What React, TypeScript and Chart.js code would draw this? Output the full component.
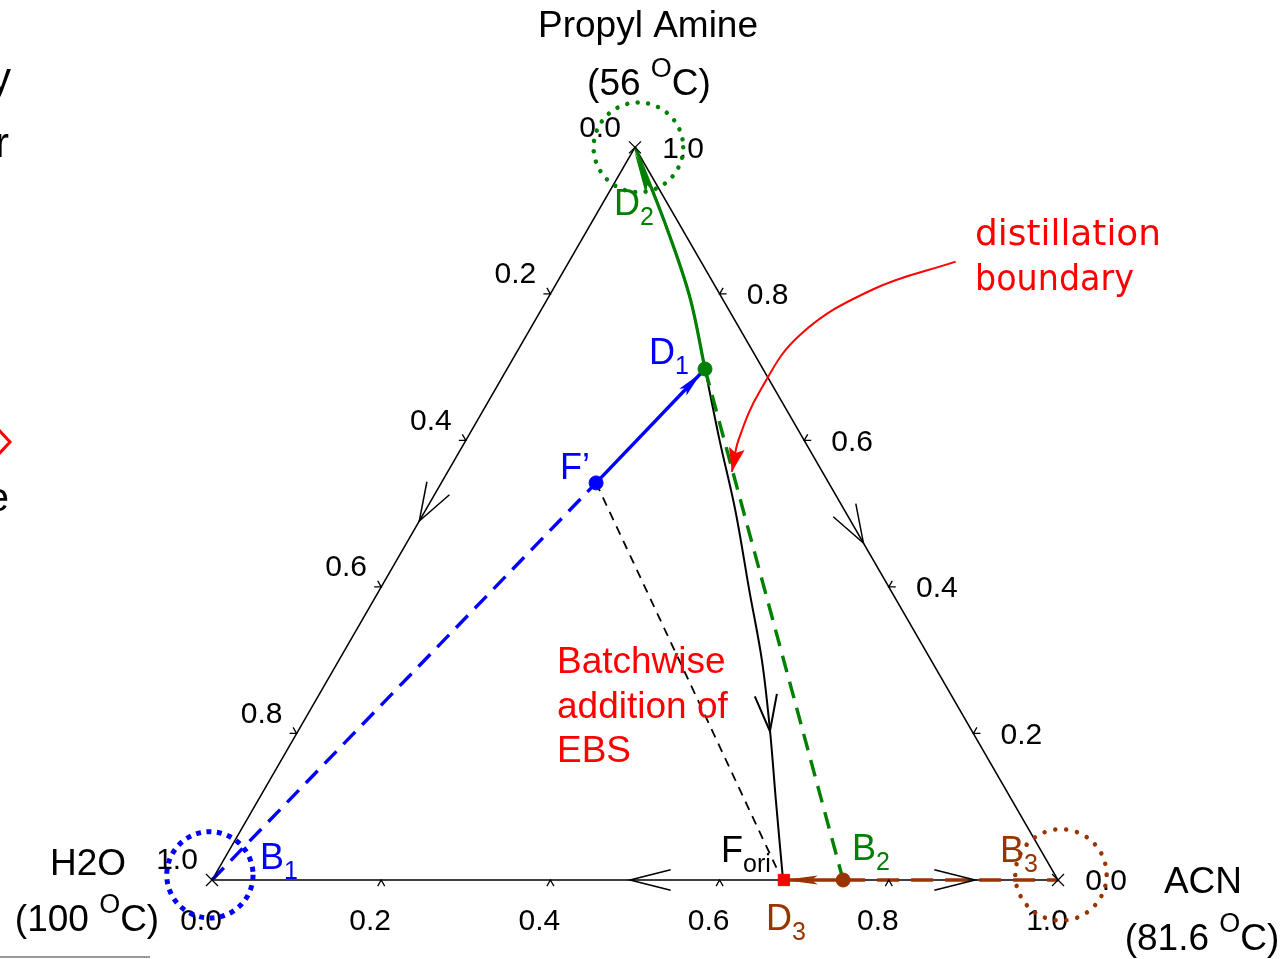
import React, { useEffect, useRef } from "react";
import { Chart, registerables } from "chart.js";

Chart.register(...registerables);

const H = Math.sqrt(3) / 2;
const FONT = '"Liberation Sans", Arial, Helvetica, sans-serif';

// Compositions are [ACN fraction, Propyl Amine fraction]; H2O = 1 - ACN - PA
const tickValues = [0.0, 0.2, 0.4, 0.6, 0.8, 1.0];
const tickLabels = ["0.0", "0.2", "0.4", "0.6", "0.8", "1.0"];

const triangleACN = [0, 1, 0, 0];
const trianglePA = [0, 0, 1, 0];

// distillation boundary (residue curve)
const boundaryACN = [0.0, 0.086, 0.166, 0.234, 0.3, 0.366, 0.437, 0.5, 0.557, 0.612, 0.675];
const boundaryPA = [1.0, 0.898, 0.797, 0.6975, 0.6, 0.505, 0.396, 0.3, 0.205, 0.109, 0.0];

const pointB1 = [0, 0];
const pointD2 = [0, 1];
const pointB3 = [1, 0];
const pointD1 = [0.234, 0.6975];
const pointF = [0.183, 0.542];
const pointFori = [0.664, 0.011];
const pointD3 = [0.676, 0];
const pointB2 = [0.746, 0];

// red annotation arrow
const redArrowACN = [0.457, 0.378, 0.323, 0.314, 0.322, 0.336];
const redArrowPA = [0.844, 0.806, 0.744, 0.669, 0.601, 0.557];

// dotted circles [ACN, PA, radius]
const circleGreen = [0.004, 1.0, 0.053];
const circleBlue = [-0.006, 0.007, 0.051];
const circleBrown = [1.0, 0.007, 0.054];

const green = "#008000";
const blue = "#0000FF";
const brown = "#993300";
const red = "#FF0000";

const toXY = (c: number[]) => ({ x: c[0] + 0.5 * c[1], y: H * c[1] });
const curve = (acn: number[], pa: number[]) => acn.map((a, i) => toXY([a, pa[i]]));

function drawRich(ctx: CanvasRenderingContext2D, x: number, y: number, parts: any[], align: string) {
  let w = 0;
  parts.forEach((p) => {
    ctx.font = `${p.size}px ${FONT}`;
    p.w = ctx.measureText(p.t).width;
    w += p.w;
  });
  let cx = align === "center" ? x - w / 2 : x;
  parts.forEach((p) => {
    ctx.font = `${p.size}px ${FONT}`;
    ctx.fillStyle = p.color;
    ctx.textAlign = "left";
    ctx.textBaseline = "middle";
    ctx.fillText(p.t, cx, y + 2 + (p.dy || 0));
    cx += p.w;
  });
}

function openArrow(ctx: CanvasRenderingContext2D, tip: any, from: any, len: number, half: number, color: string, lw: number) {
  const a = Math.atan2(tip.y - from.y, tip.x - from.x);
  ctx.save();
  ctx.strokeStyle = color;
  ctx.lineWidth = lw;
  ctx.setLineDash([]);
  ctx.beginPath();
  ctx.moveTo(tip.x + len * Math.cos(a + Math.PI - half), tip.y + len * Math.sin(a + Math.PI - half));
  ctx.lineTo(tip.x, tip.y);
  ctx.lineTo(tip.x + len * Math.cos(a + Math.PI + half), tip.y + len * Math.sin(a + Math.PI + half));
  ctx.stroke();
  ctx.restore();
}

function filledArrow(ctx: CanvasRenderingContext2D, tip: any, from: any, len: number, hw: number, color: string) {
  const a = Math.atan2(tip.y - from.y, tip.x - from.x);
  const bx = tip.x - len * Math.cos(a);
  const by = tip.y - len * Math.sin(a);
  ctx.save();
  ctx.fillStyle = color;
  ctx.beginPath();
  ctx.moveTo(tip.x, tip.y);
  ctx.lineTo(bx + hw * Math.sin(a), by - hw * Math.cos(a));
  ctx.lineTo(tip.x - len * 0.8 * Math.cos(a), tip.y - len * 0.8 * Math.sin(a));
  ctx.lineTo(bx - hw * Math.sin(a), by + hw * Math.cos(a));
  ctx.closePath();
  ctx.fill();
  ctx.restore();
}

const annot = {
  id: "annot",
  afterDatasetsDraw(chart: any) {
    const ctx: CanvasRenderingContext2D = chart.ctx;
    const sx = chart.scales.x;
    const sy = chart.scales.y;
    const P = (c: number[]) => ({ x: sx.getPixelForValue(c[0] + 0.5 * c[1]), y: sy.getPixelForValue(H * c[1]) });
    const unit = sx.getPixelForValue(1) - sx.getPixelForValue(0);

    ctx.save();
    // ticks
    ctx.strokeStyle = "#000";
    ctx.lineWidth = 1.3;
    const tick = (p: any, a1: number, a2: number) => {
      const L = 7;
      ctx.beginPath();
      ctx.moveTo(p.x + L * Math.cos(a1), p.y + L * Math.sin(a1));
      ctx.lineTo(p.x, p.y);
      ctx.lineTo(p.x + L * Math.cos(a2), p.y + L * Math.sin(a2));
      ctx.stroke();
    };
    const d = Math.PI / 180;
    tickValues.slice(1, 5).forEach((v) => {
      tick(P([v, 0]), 60 * d, 120 * d);
      tick(P([0, 1 - v]), 180 * d, 240 * d);
      tick(P([1 - v, v]), -60 * d, 0);
    });

    // vertex crosses
    [pointB1, pointD2, pointB3].forEach((c) => {
      const p = P(c);
      ctx.beginPath();
      ctx.moveTo(p.x - 6, p.y - 6);
      ctx.lineTo(p.x + 6, p.y + 6);
      ctx.moveTo(p.x + 6, p.y - 6);
      ctx.lineTo(p.x - 6, p.y + 6);
      ctx.stroke();
    });

    // tick labels
    ctx.fillStyle = "#000";
    ctx.font = `30px ${FONT}`;
    ctx.textAlign = "center";
    ctx.textBaseline = "middle";
    tickValues.forEach((v, i) => {
      const b = P([v, 0]);
      ctx.fillText(tickLabels[i], b.x - 11, b.y + 42);
      const l = P([0, 1 - v]);
      ctx.fillText(tickLabels[i], l.x - 35, l.y - 19);
      const r = P([1 - v, v]);
      ctx.fillText(tickLabels[i], r.x + 48, r.y + 2);
    });

    // open arrows on edges and boundary
    const half = 19 * d;
    openArrow(ctx, P([0, 0.49]), P([0, 1]), 40, half, "#000", 1.5);
    openArrow(ctx, P([0.54, 0.46]), P([0, 1]), 40, half, "#000", 1.5);
    openArrow(ctx, P([0.494, 0]), P([1, 0]), 42, 14 * d, "#000", 1.5);
    openArrow(ctx, P([0.902, 0]), P([0, 0]), 42, 14 * d, "#000", 1.5);
    openArrow(ctx, P([0.558, 0.203]), P([boundaryACN[7], boundaryPA[7]]), 38, 17 * d, "#000", 2);

    // filled arrowheads
    filledArrow(ctx, P([0.003, 0.993]), P([boundaryACN[2], boundaryPA[2]]), 44, 4.5, green);
    const d1 = P(pointD1);
    const fp = P(pointF);
    const bl = Math.hypot(d1.x - fp.x, d1.y - fp.y);
    const tipB = { x: d1.x - ((d1.x - fp.x) / bl) * 6, y: d1.y - ((d1.y - fp.y) / bl) * 6 };
    filledArrow(ctx, tipB, fp, 26, 5, blue);
    filledArrow(ctx, P(pointD3), P(pointB2), 34, 4.5, brown);

    // red annotation arrowhead
    const n = redArrowACN.length;
    filledArrow(ctx, P([redArrowACN[n - 1], redArrowPA[n - 1]]), P([redArrowACN[n - 2], redArrowPA[n - 2]]), 24, 8, red);

    // dotted circles
    const circ = (c: number[], color: string, lw: number, dash: number[], cap: CanvasLineCap) => {
      const p = P(c);
      ctx.save();
      ctx.strokeStyle = color;
      ctx.lineWidth = lw;
      ctx.setLineDash(dash);
      ctx.lineCap = cap;
      ctx.beginPath();
      ctx.arc(p.x, p.y, c[2] * unit, 0, Math.PI * 2);
      ctx.stroke();
      ctx.restore();
    };
    circ(circleGreen, green, 4.5, [0.01, 10.5], "round");
    circ(circleBlue, blue, 5, [5, 5.5], "butt");
    circ(circleBrown, brown, 4.5, [0.01, 11], "round");

    // vertex labels
    const sup = (t: string) => ({ t, size: 27, dy: -15, color: "#000" });
    const nrm = (t: string, color = "#000") => ({ t, size: 37, dy: 0, color });
    drawRich(ctx, 648, 25, [nrm("Propyl Amine")], "center");
    drawRich(ctx, 649, 83, [nrm("(56 "), sup("O"), nrm("C)")], "center");
    drawRich(ctx, 88, 863, [nrm("H2O")], "center");
    drawRich(ctx, 87, 919, [nrm("(100 "), sup("O"), nrm("C)")], "center");
    drawRich(ctx, 1203, 881, [nrm("ACN")], "center");
    drawRich(ctx, 1202, 938, [nrm("(81.6 "), sup("O"), nrm("C)")], "center");

    // point labels
    const lab = (x: number, y: number, main: string, sub: string, color: string) =>
      drawRich(ctx, x, y, [{ t: main, size: 36, dy: 0, color }, { t: sub, size: 25, dy: 13, color }], "left");
    lab(614, 203, "D", "2", green);
    lab(649, 352, "D", "1", blue);
    lab(560, 467, "F\u2019", "", blue);
    lab(260, 857, "B", "1", blue);
    lab(721, 850, "F", "ori", "#000");
    lab(852, 848, "B", "2", green);
    lab(1000, 850, "B", "3", brown);
    lab(766, 918, "D", "3", brown);

    // red texts
    ctx.fillStyle = red;
    ctx.textAlign = "left";
    ctx.textBaseline = "middle";
    ctx.font = `37px ${FONT}`;
    ctx.fillText("Batchwise", 557, 663);
    ctx.fillText("addition of", 557, 708);
    ctx.fillText("EBS", 557, 752);
    ctx.font = `36px "Comic Sans MS", "DejaVu Sans", sans-serif`;
    ctx.fillText("distillation", 975, 236, 186);
    ctx.fillText("boundary", 975, 281, 159);

    // clipped slide remnants at the left edge
    ctx.fillStyle = "#000";
    ctx.font = `42px ${FONT}`;
    ctx.textAlign = "right";
    ctx.fillText("y", 11, 80);
    ctx.fillText("r", 9, 145);
    ctx.font = `40px ${FONT}`;
    ctx.fillText("e", 9, 500);
    ctx.strokeStyle = red;
    ctx.lineWidth = 3;
    ctx.beginPath();
    ctx.moveTo(-3, 428);
    ctx.lineTo(10, 442);
    ctx.lineTo(-3, 456);
    ctx.stroke();
    ctx.strokeStyle = "#777";
    ctx.lineWidth = 1.5;
    ctx.beginPath();
    ctx.moveTo(0, 957);
    ctx.lineTo(150, 957);
    ctx.stroke();
    ctx.restore();
  },
};

export default function App() {
  const ref = useRef<HTMLCanvasElement>(null);
  useEffect(() => {
    const canvas = ref.current!;
    const base = { showLine: true, pointRadius: 0, fill: false, clip: false as any };
    const datasets: any[] = [
      { ...base, label: "triangle", data: curve(triangleACN, trianglePA), borderColor: "#000", borderWidth: 1.5, order: 10 },
      { ...base, label: "boundary", data: curve(boundaryACN, boundaryPA), borderColor: "#000", borderWidth: 2, tension: 0.35, order: 9 },
      { ...base, label: "D2-D1", data: curve(boundaryACN.slice(0, 4), boundaryPA.slice(0, 4)), borderColor: green, borderWidth: 3.2, tension: 0.35, order: 8 },
      { ...base, label: "D1-B2", data: [toXY(pointD1), toXY(pointB2)], borderColor: green, borderWidth: 3.4, borderDash: [17, 10], order: 7 },
      { ...base, label: "B1-F", data: [toXY(pointB1), toXY(pointF)], borderColor: blue, borderWidth: 3.4, borderDash: [17, 10], order: 7 },
      { ...base, label: "F-D1", data: [toXY(pointF), toXY(pointD1)], borderColor: blue, borderWidth: 3.4, order: 7 },
      { ...base, label: "F-Fori", data: [toXY(pointF), toXY(pointFori)], borderColor: "#000", borderWidth: 1.8, borderDash: [9, 7], order: 7 },
      { ...base, label: "B2-D3", data: [toXY(pointB2), toXY(pointD3)], borderColor: brown, borderWidth: 3.4, order: 6 },
      { ...base, label: "B2-B3", data: [toXY(pointB2), toXY(pointB3)], borderColor: brown, borderWidth: 3.4, borderDash: [22, 12], order: 6 },
      { ...base, label: "red", data: curve(redArrowACN, redArrowPA), borderColor: red, borderWidth: 2, tension: 0.4, order: 6 },
      { label: "D1", data: [toXY(pointD1)], pointRadius: 7, backgroundColor: green, borderColor: green, order: 1, clip: false },
      { label: "F", data: [toXY(pointF)], pointRadius: 7, backgroundColor: blue, borderColor: blue, order: 1, clip: false },
      { label: "B2", data: [toXY(pointB2)], pointRadius: 7, backgroundColor: brown, borderColor: brown, order: 1, clip: false },
      { label: "D3", data: [toXY(pointD3)], pointStyle: "rect", pointRadius: 8, backgroundColor: red, borderColor: red, order: 1, clip: false },
    ];
    const chart = new Chart(canvas, {
      type: "scatter",
      data: { datasets },
      options: {
        animation: false,
        responsive: true,
        maintainAspectRatio: false,
        layout: { padding: 0, autoPadding: false },
        plugins: { legend: { display: false }, tooltip: { enabled: false } },
        scales: {
          x: { type: "linear", display: false, min: -212 / 846, max: (1284 - 212) / 846 },
          y: { type: "linear", display: false, min: -(959 - 880) / 846, max: 880 / 846 },
        },
      },
      plugins: [annot],
    });
    return () => chart.destroy();
  }, []);
  return (
    <div style={{ position: "absolute", left: 0, top: 0, width: 1284, height: 959, background: "#fff" }}>
      <canvas ref={ref} />
    </div>
  );
}
